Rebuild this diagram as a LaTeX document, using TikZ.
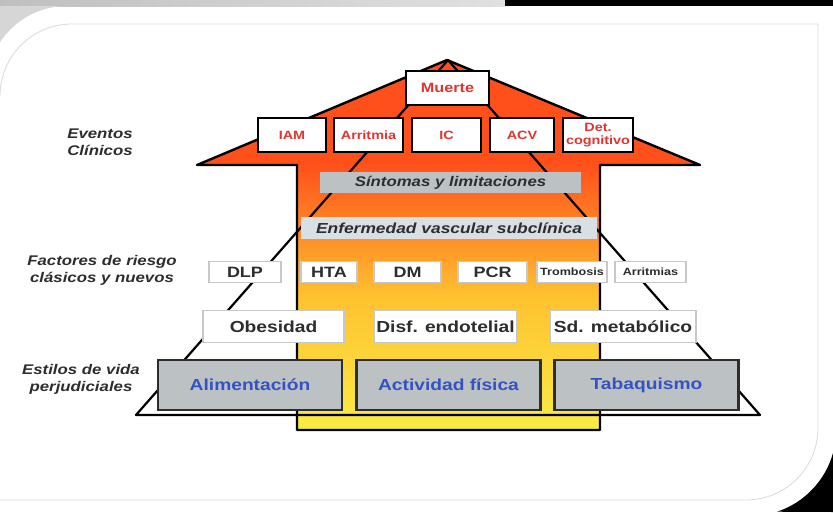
\documentclass[tikz,border=0pt]{standalone}
\usepackage{fontspec}
\setmainfont{Liberation Sans}
\newfontfamily\dfont[FakeStretch=1.2]{Liberation Sans}

\definecolor{techo}{RGB}{255,80,28}
\definecolor{naranja}{RGB}{255,194,48}
\definecolor{amarillo}{RGB}{248,236,70}
\definecolor{rojo}{RGB}{226,52,46}
\definecolor{azul}{RGB}{52,82,196}
\definecolor{gris}{RGB}{188,193,196}
\definecolor{grisazul}{RGB}{216,224,230}
\definecolor{borde}{RGB}{200,200,200}
\definecolor{oscuro}{RGB}{45,45,45}
\definecolor{marco}{RGB}{214,214,214}

\begin{document}
\begin{tikzpicture}[x=1pt,y=-1pt,
    evento/.style={draw=black,line width=2.4pt,fill=white,text=rojo,inner sep=0pt,
        minimum height=34pt,align=center,font=\dfont\bfseries\fontsize{12}{13}\selectfont},
    banda/.style={inner sep=0pt,text=oscuro,font=\dfont\bfseries\itshape\fontsize{14}{14}\selectfont},
    factor/.style={draw=borde,line width=1.2pt,fill=white,inner sep=0pt,text=oscuro,
        minimum height=21pt,font=\dfont\bfseries\fontsize{15}{15}\selectfont},
    factorchico/.style={factor,font=\dfont\bfseries\fontsize{10.5}{10.5}\selectfont},
    medio/.style={draw=borde,line width=1.2pt,fill=white,inner sep=0pt,text=oscuro,
        minimum height=32pt,font=\dfont\bfseries\fontsize{16}{16}\selectfont},
    estilo/.style={draw=oscuro,line width=2.6pt,fill=gris,inner sep=0pt,text=azul,
        minimum width=184pt,minimum height=50pt,font=\dfont\bfseries\fontsize{16}{16}\selectfont},
    etiqueta/.style={align=center,text=oscuro,font=\dfont\bfseries\itshape\fontsize{14}{17}\selectfont}]

    \useasboundingbox (0,0) rectangle (833,512);

    \shade[left color=black!25,right color=black!12] (0,0) rectangle (505,6);
    \fill[black] (505,0) rectangle (833,6);
    \fill[marco] (0,6) -- (67,6) arc[start angle=270,end angle=213.4,radius=80] -- cycle;
    \fill[black] (833,453) arc[start angle=15.5,end angle=71.8,radius=86] -- (833,512) -- cycle;
    \draw[black!15,line width=0.8pt] (0,500) -- (746,500) arc[start angle=90,end angle=0,radius=72]
        -- (818,24) -- (72,24) arc[start angle=270,end angle=180,radius=72];

    \fill[techo] (197,165) -- (447,60) -- (700,165) -- cycle;
    \shade[top color=techo,bottom color=amarillo,middle color=naranja] (297,164) rectangle (600,430);
    \draw[line width=2.4pt,line join=round] (197,165) -- (447,60) -- (700,165) -- (600,165)
        -- (600,430) -- (297,430) -- (297,165) -- cycle;

    \coordinate (cima) at (448,60);
    \coordinate (baseizq) at (136,415);
    \coordinate (baseder) at (760,415);
    \draw[line width=2.2pt,line join=round] (cima) -- (baseizq) -- (baseder) -- cycle;

    \node[evento,minimum width=83pt,font=\dfont\bfseries\fontsize{13.5}{13.5}\selectfont] (muerte) at (447.5,88) {Muerte};
    \node[evento,minimum width=68pt] (iam) at (292,135) {IAM};
    \node[evento,minimum width=69pt] (arritmia) at (368.5,135) {Arritmia};
    \node[evento,minimum width=69pt] (ic) at (446.5,135) {IC};
    \node[evento,minimum width=64pt] (acv) at (522,135) {ACV};
    \node[evento,minimum width=70pt] (det) at (598,135) {Det.\\cognitivo};

    \node[banda,fill=gris,minimum width=261pt,minimum height=21pt] (sintomas) at (450.5,182.5) {Síntomas y limitaciones};
    \node[banda,fill=grisazul,minimum width=296pt,minimum height=22pt,font=\dfont\bfseries\itshape\fontsize{14.5}{14.5}\selectfont] (enfermedad) at (449,228) {Enfermedad vascular subclínica};

    \node[factor,minimum width=72pt] (dlp) at (245,272) {DLP};
    \node[factor,minimum width=56pt] (hta) at (329,272) {HTA};
    \node[factor,minimum width=67pt] (dm) at (407.5,272) {DM};
    \node[factor,minimum width=69pt] (pcr) at (492.5,272) {PCR};
    \node[factorchico,minimum width=70pt] (trombosis) at (572,272) {Trombosis};
    \node[factorchico,minimum width=71pt] (arritmias) at (650.5,272) {Arritmias};

    \node[medio,minimum width=141pt] (obesidad) at (273.5,326.5) {Obesidad};
    \node[medio,minimum width=143pt] (disf) at (445.5,326.5) {Disf. endotelial};
    \node[medio,minimum width=146pt] (sd) at (623,326.5) {Sd. metabólico};

    \node[estilo] (alimentacion) at (250,385) {Alimentación};
    \node[estilo] (actividad) at (448.5,385) {Actividad física};
    \node[estilo] (tabaquismo) at (646.5,385) {Tabaquismo};

    \node[etiqueta] (eventos) at (100,142) {Eventos\\Clínicos};
    \node[etiqueta] (factores) at (102,270) {Factores de riesgo\\clásicos y nuevos};
    \node[etiqueta] (estilos) at (81,379) {Estilos de vida\\perjudiciales};
\end{tikzpicture}
\end{document}
